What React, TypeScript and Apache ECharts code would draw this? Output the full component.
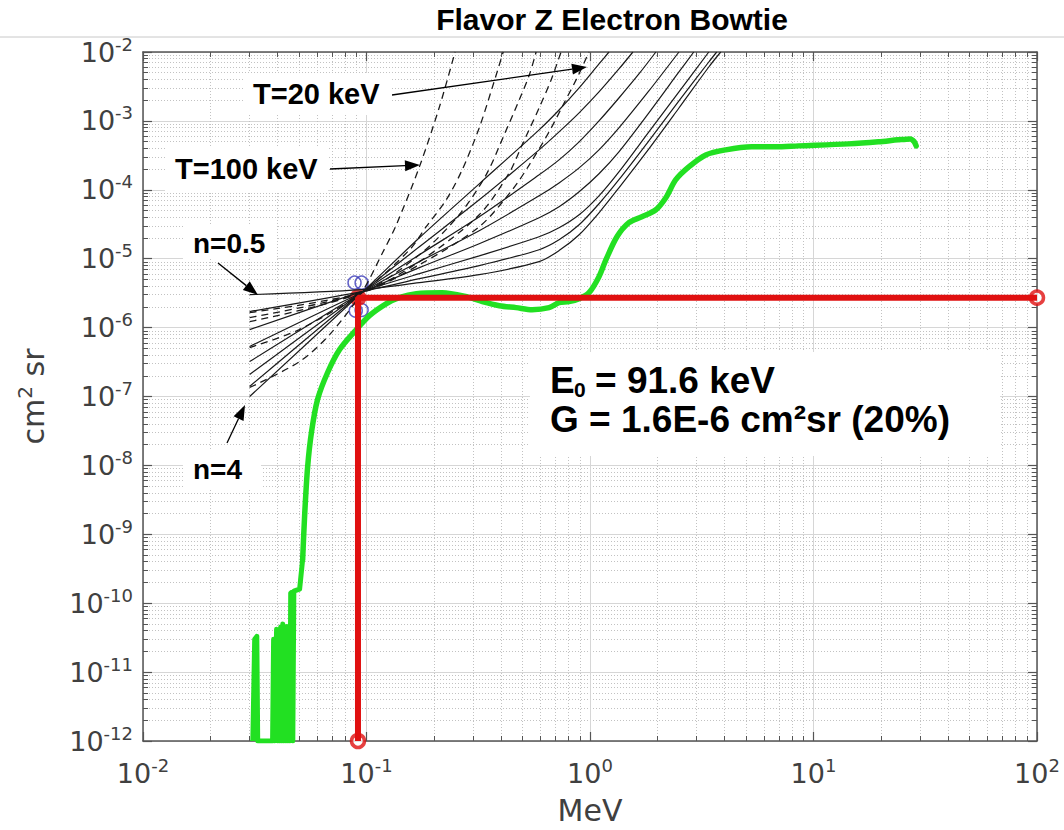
import React, { useEffect, useRef } from "react";
import * as echarts from "echarts";

// ---------- axis ticks ----------
const xMajorTicks = [0.01, 0.1, 1, 10, 100];
const yMajorTicks = [1e-12, 1e-11, 1e-10, 1e-9, 1e-8, 1e-7, 1e-6, 1e-5, 1e-4, 1e-3, 1e-2];
const minorMultipliers = [2, 3, 4, 5, 6, 7, 8, 9];
const xMinorTicks = xMajorTicks.slice(0, -1).flatMap((d) => minorMultipliers.map((m) => d * m));
const yMinorTicks = yMajorTicks.slice(0, -1).flatMap((d) => minorMultipliers.map((m) => d * m));

// ---------- power-law (n) curves: [MeV, cm2 sr] ----------
const curveN05 = [[0.030, 3.01e-6], [0.0951, 3.56e-6], [0.1724, 4.49e-6], [0.3194, 5.86e-6], [0.592, 9.06e-6], [0.727, 1.31e-5], [0.894, 2.23e-5], [1.097, 4.64e-5], [1.347, 1.07e-4], [1.834, 3.93e-4], [2.50, 1.54e-3], [3.40, 6.06e-3], [3.845, 1e-2]];
const curveN10 = [[0.030, 1.71e-6], [0.0951, 3.33e-6], [0.1724, 5.13e-6], [0.3194, 7.92e-6], [0.592, 1.35e-5], [0.727, 1.88e-5], [0.894, 3.11e-5], [1.097, 6.27e-5], [1.347, 1.40e-4], [1.834, 5.13e-4], [2.50, 1.95e-3], [3.40, 7.16e-3], [3.69, 1e-2]];
const curveN15 = [[0.030, 9.35e-7], [0.0951, 3.33e-6], [0.1724, 6.06e-6], [0.3194, 1.10e-5], [0.592, 2.08e-5], [0.727, 2.81e-5], [0.894, 4.34e-5], [1.097, 8.18e-5], [1.347, 1.82e-4], [1.834, 6.93e-4], [2.50, 2.63e-3], [3.40, 1e-2]];
const curveN20 = [[0.030, 5.31e-7], [0.0951, 3.21e-6], [0.1724, 7.41e-6], [0.3194, 1.65e-5], [0.592, 3.93e-5], [0.727, 5.67e-5], [0.894, 9.35e-5], [1.097, 1.71e-4], [1.347, 3.56e-4], [1.834, 1.31e-3], [2.50, 5.13e-3], [2.912, 1e-2]];
const curveN25 = [[0.030, 3.21e-7], [0.0951, 3.21e-6], [0.1724, 9.06e-6], [0.3194, 2.55e-5], [0.592, 8.18e-5], [0.727, 1.26e-4], [0.894, 2.08e-4], [1.097, 3.80e-4], [1.347, 7.92e-4], [1.834, 2.72e-3], [2.50, 1e-2]];
const curveN30 = [[0.030, 2.08e-7], [0.0951, 3.21e-6], [0.1724, 1.14e-5], [0.3194, 4.06e-5], [0.592, 1.65e-4], [0.727, 2.72e-4], [0.894, 4.97e-4], [1.097, 1.0e-3], [1.347, 2.15e-3], [1.655, 4.80e-3], [1.971, 1e-2]];
const curveN35 = [[0.030, 1.40e-7], [0.0951, 3.21e-6], [0.1724, 1.49e-5], [0.3194, 7.16e-5], [0.592, 3.80e-4], [0.727, 6.93e-4], [0.894, 1.31e-3], [1.097, 2.63e-3], [1.347, 5.67e-3], [1.556, 1e-2]];
const curveN40 = [[0.030, 1.0e-7], [0.0951, 3.21e-6], [0.1724, 2.01e-5], [0.3194, 1.22e-4], [0.592, 7.41e-4], [0.727, 1.44e-3], [0.894, 3.01e-3], [1.097, 6.70e-3], [1.216, 1e-2]];

// ---------- exponential (T) curves ----------
const curveT100 = [[0.030, 1.35e-7], [0.0502, 3.21e-7], [0.0684, 7.92e-7], [0.0951, 3.21e-6], [0.118, 1.22e-5], [0.136, 3.11e-5], [0.1724, 2.15e-4], [0.212, 1.60e-3], [0.249, 1e-2]];
const curveT2 = [[0.030, 5.13e-7], [0.050, 9.35e-7], [0.0951, 3.21e-6], [0.156, 1.35e-5], [0.185, 2.91e-5], [0.2275, 7.16e-5], [0.268, 1.95e-4], [0.3194, 7.92e-4], [0.365, 3.01e-3], [0.409, 1e-2]];
const curveT3 = [[0.030, 1.22e-6], [0.0951, 3.21e-6], [0.1724, 1.14e-5], [0.260, 4.34e-5], [0.343, 1.65e-4], [0.413, 6.27e-4], [0.482, 2.01e-3], [0.535, 4.64e-3], [0.574, 1e-2]];
const curveT4 = [[0.030, 1.40e-6], [0.0951, 3.21e-6], [0.1724, 9.06e-6], [0.3194, 4.34e-5], [0.435, 1.76e-4], [0.497, 4.49e-4], [0.592, 1.54e-3], [0.670, 3.93e-3], [0.742, 1e-2]];
const curveT20 = [[0.030, 1.65e-6], [0.0951, 3.21e-6], [0.1724, 8.18e-6], [0.3194, 2.91e-5], [0.449, 1.0e-4], [0.535, 2.30e-4], [0.656, 6.93e-4], [0.766, 1.82e-3], [0.875, 4.20e-3], [0.990, 1e-2]];

// ---------- measured geometric factor (green) ----------
const greenNoise = [
  [0.0310, 1e-12], [0.0316, 3.0e-11], [0.0323, 3.3e-11], [0.0326, 1e-12], [0.0380, 1e-12], [0.0384, 3.0e-11],
  [0.0388, 1e-12], [0.0396, 4.2e-11], [0.0401, 1e-12], [0.0405, 4.0e-11], [0.0409, 1e-12], [0.0413, 4.5e-11],
  [0.0418, 1e-12], [0.0422, 5.0e-11], [0.0426, 1e-12], [0.0431, 4.0e-11], [0.0436, 1e-12], [0.0440, 4.6e-11],
  [0.0445, 1e-12], [0.0449, 4.2e-11], [0.0454, 1e-12], [0.0458, 1.4e-10], [0.0463, 1.44e-10], [0.0468, 1e-12],
  [0.0473, 1.5e-10], [0.0487, 1.55e-10], [0.0502, 1.6e-10], [0.0518, 4.34e-10],
];
const greenMain = [
  [0.0518, 4.34e-10], [0.0529, 1.95e-9], [0.0545, 9.35e-9],
  [0.0568, 3.11e-8], [0.0604, 9.06e-8], [0.0670, 2.23e-7], [0.0758, 4.80e-7], [0.0884, 8.75e-7], [0.1031, 1.49e-6],
  [0.1228, 2.23e-6], [0.140, 2.72e-6], [0.167, 3.11e-6], [0.218, 3.21e-6], [0.280, 2.81e-6], [0.330, 2.38e-6],
  [0.393, 2.08e-6], [0.467, 1.95e-6], [0.551, 1.82e-6], [0.656, 1.95e-6], [0.727, 2.30e-6], [0.806, 2.38e-6],
  [0.894, 2.63e-6], [0.990, 3.21e-6], [1.097, 5.48e-6], [1.179, 9.68e-6], [1.320, 2.08e-5], [1.493, 3.33e-5],
  [1.706, 4.06e-5], [1.971, 5.13e-5], [2.184, 7.66e-5], [2.42, 1.40e-4], [2.767, 2.15e-4], [3.296, 3.21e-4],
  [4.05, 3.80e-4], [5.29, 4.20e-4], [6.77, 4.20e-4], [8.57, 4.34e-4], [14.3, 4.64e-4], [19.5, 4.97e-4],
  [23.9, 5.31e-4], [27.1, 5.48e-4], [28.2, 5.0e-4], [28.8, 4.34e-4],
];

// ---------- bowtie result ----------
const bowtiePath = [[0.0916, 1e-12], [0.0916, 2.72e-6], [100, 2.72e-6]];
const bowtieEnds = [[0.0916, 1e-12], [100, 2.72e-6]];
const bowtieCorner = [[0.0916, 2.72e-6]];
const crossingMarks = [[0.0884, 4.49e-6], [0.0951, 4.49e-6], [0.0895, 1.76e-6], [0.0951, 1.80e-6]];

const solidCurves = [
  { name: "n=0.5", data: curveN05 }, { name: "n=1", data: curveN10 }, { name: "n=1.5", data: curveN15 },
  { name: "n=2", data: curveN20 }, { name: "n=2.5", data: curveN25 }, { name: "n=3", data: curveN30 },
  { name: "n=3.5", data: curveN35 }, { name: "n=4", data: curveN40 },
];
const dashedCurves = [
  { name: "T=100 keV", data: curveT100 }, { name: "T curve 2", data: curveT2 }, { name: "T curve 3", data: curveT3 },
  { name: "T curve 4", data: curveT4 }, { name: "T=20 keV", data: curveT20 },
];

const AX_FONT = "DejaVu Sans";
const LBL_FONT = '"Liberation Sans", Arial, sans-serif';
const AX_GRAY = "#555555";
const TXT_GRAY = "#404040";
const GREEN = "#22e022";

const labelRich = {
  b: { fontFamily: AX_FONT, fontSize: 27, color: TXT_GRAY },
  s: { fontFamily: AX_FONT, fontSize: 18, color: TXT_GRAY, padding: [0, 0, 16, 0] },
};
const powFmt = (v: number) => `{b|10}{s|${Math.round(Math.log10(v))}}`;

function baseAxis(extra: any) {
  return { type: "log", logBase: 10, gridIndex: 0, ...extra };
}

function arrow(x1: number, y1: number, x2: number, y2: number) {
  const dx = x2 - x1, dy = y2 - y1;
  const len = Math.hypot(dx, dy);
  const ux = dx / len, uy = dy / len;
  const px = -uy, py = ux;
  const bx = x2 - 15 * ux, by = y2 - 15 * uy;
  return [
    { type: "line", z: 60, shape: { x1, y1, x2: bx, y2: by }, style: { stroke: "#000", lineWidth: 1.3 } },
    {
      type: "polygon", z: 60,
      shape: { points: [[x2, y2], [bx + 5.5 * px, by + 5.5 * py], [bx - 5.5 * px, by - 5.5 * py]] },
      style: { fill: "#000" },
    },
  ];
}

function whiteBox(x: number, y: number, w: number, h: number) {
  return { type: "rect", z: 55, shape: { x, y, width: w, height: h }, style: { fill: "#ffffff" } };
}
function boldText(text: string, x: number, y: number, size: number) {
  return {
    type: "text", z: 61, x, y,
    style: { text, fontFamily: LBL_FONT, fontWeight: "bold", fontSize: size, fill: "#000", align: "left", verticalAlign: "middle" },
  };
}

const option: any = {
  animation: false,
  backgroundColor: "#ffffff",
  title: {
    text: "Flavor Z Electron Bowtie",
    left: 612, top: 4, textAlign: "center", padding: 0,
    textStyle: { fontFamily: LBL_FONT, fontWeight: "bold", fontSize: 30, color: "#000" },
  },
  grid: { left: 143, top: 52, width: 894, height: 690, containLabel: false },
  xAxis: [
    baseAxis({
      min: 0.01, max: 100, position: "bottom",
      axisLine: { show: true, lineStyle: { color: AX_GRAY, width: 1.5 } },
      axisTick: { show: true, inside: true, length: 9, customValues: xMajorTicks, lineStyle: { color: AX_GRAY, width: 1.2 } },
      axisLabel: { show: true, customValues: xMajorTicks, formatter: powFmt, rich: labelRich, margin: 15, showMinLabel: true, showMaxLabel: true },
      splitLine: { show: true, lineStyle: { color: "#d6d6d6", width: 1 } },
      name: "MeV", nameLocation: "middle", nameGap: 54,
      nameTextStyle: { fontFamily: AX_FONT, fontSize: 30, color: TXT_GRAY },
    }),
    baseAxis({
      min: 0.01, max: 100, position: "bottom",
      axisLine: { show: false },
      axisTick: { show: true, inside: true, length: 5, customValues: xMinorTicks, lineStyle: { color: AX_GRAY, width: 1 } },
      axisLabel: { show: false },
      splitLine: { show: true, lineStyle: { color: "#c2c2c2", width: 1, type: [1, 2] } },
    }),
    baseAxis({
      min: 0.01, max: 100, position: "top",
      axisLine: { show: true, lineStyle: { color: AX_GRAY, width: 1.5 } },
      axisTick: { show: true, inside: true, length: 9, customValues: xMajorTicks, lineStyle: { color: AX_GRAY, width: 1.2 } },
      axisLabel: { show: false }, splitLine: { show: false },
    }),
    baseAxis({
      min: 0.01, max: 100, position: "top",
      axisLine: { show: false },
      axisTick: { show: true, inside: true, length: 5, customValues: xMinorTicks, lineStyle: { color: AX_GRAY, width: 1 } },
      axisLabel: { show: false }, splitLine: { show: false },
    }),
  ],
  yAxis: [
    baseAxis({
      min: 1e-12, max: 1e-2, position: "left",
      axisLine: { show: true, lineStyle: { color: AX_GRAY, width: 1.5 } },
      axisTick: { show: true, inside: true, length: 9, customValues: yMajorTicks, lineStyle: { color: AX_GRAY, width: 1.2 } },
      axisLabel: { show: true, customValues: yMajorTicks, formatter: powFmt, rich: labelRich, margin: 10, showMinLabel: true, showMaxLabel: true },
      splitLine: { show: true, lineStyle: { color: "#d6d6d6", width: 1 } },
      name: "{b|cm}{s|2}{b| sr}", nameLocation: "middle", nameGap: 92,
      nameTextStyle: {
        rich: {
          b: { fontFamily: AX_FONT, fontSize: 30, color: TXT_GRAY },
          s: { fontFamily: AX_FONT, fontSize: 20, color: TXT_GRAY, padding: [0, 0, 16, 0] },
        },
      },
    }),
    baseAxis({
      min: 1e-12, max: 1e-2, position: "left",
      axisLine: { show: false },
      axisTick: { show: true, inside: true, length: 5, customValues: yMinorTicks, lineStyle: { color: AX_GRAY, width: 1 } },
      axisLabel: { show: false },
      splitLine: { show: true, lineStyle: { color: "#c2c2c2", width: 1, type: [1, 2] } },
    }),
    baseAxis({
      min: 1e-12, max: 1e-2, position: "right",
      axisLine: { show: true, lineStyle: { color: AX_GRAY, width: 1.5 } },
      axisTick: { show: true, inside: true, length: 9, customValues: yMajorTicks, lineStyle: { color: AX_GRAY, width: 1.2 } },
      axisLabel: { show: false }, splitLine: { show: false },
    }),
    baseAxis({
      min: 1e-12, max: 1e-2, position: "right",
      axisLine: { show: false },
      axisTick: { show: true, inside: true, length: 5, customValues: yMinorTicks, lineStyle: { color: AX_GRAY, width: 1 } },
      axisLabel: { show: false }, splitLine: { show: false },
    }),
  ],
  series: [
    ...solidCurves.map((c) => ({
      type: "line", name: c.name, data: c.data, xAxisIndex: 0, yAxisIndex: 0,
      showSymbol: false, symbol: "none", smooth: 0.3,
      lineStyle: { color: "#1a1a1a", width: 1.2 },
    })),
    ...dashedCurves.map((c) => ({
      type: "line", name: c.name, data: c.data, xAxisIndex: 0, yAxisIndex: 0,
      showSymbol: false, symbol: "none", smooth: 0.3,
      lineStyle: { color: "#1a1a1a", width: 1.3, type: [7, 5] },
    })),
    {
      type: "line", name: "Geometric factor (noise)", data: greenNoise, xAxisIndex: 0, yAxisIndex: 0,
      showSymbol: false, symbol: "none", lineStyle: { color: GREEN, width: 5, join: "round" },
    },
    {
      type: "line", name: "Geometric factor", data: greenMain, xAxisIndex: 0, yAxisIndex: 0,
      showSymbol: false, symbol: "none", smooth: 0.3,
      lineStyle: { color: GREEN, width: 5.5, join: "round", cap: "round" },
    },
    {
      type: "scatter", name: "crossings", data: crossingMarks, xAxisIndex: 0, yAxisIndex: 0,
      symbol: "circle", symbolSize: 13,
      itemStyle: { color: "rgba(0,0,0,0)", borderColor: "#3a3ab8", borderWidth: 1.5 },
    },
    {
      type: "line", name: "E0 / G", data: bowtiePath, xAxisIndex: 0, yAxisIndex: 0,
      showSymbol: false, symbol: "none", clip: false, lineStyle: { color: "#e01010", width: 6 },
    },
    {
      type: "scatter", name: "ends", data: bowtieEnds, xAxisIndex: 0, yAxisIndex: 0, clip: false,
      symbol: "circle", symbolSize: 13,
      itemStyle: { color: "#ffffff", borderColor: "#e01010", borderWidth: 3.5 },
    },
    {
      type: "scatter", name: "corner", data: bowtieCorner, xAxisIndex: 0, yAxisIndex: 0, clip: false,
      symbol: "circle", symbolSize: 17, itemStyle: { color: "#e01010" },
    },
  ],
  graphic: [
    { type: "line", z: 60, shape: { x1: 0, y1: 37, x2: 1064, y2: 37 }, style: { stroke: "#c8c8c8", lineWidth: 1 } },
    whiteBox(245, 73, 146, 42),
    whiteBox(165, 147, 163, 44),
    whiteBox(183, 226, 94, 33),
    whiteBox(183, 451, 78, 38),
    whiteBox(530, 352, 470, 104),
    boldText("T=20 keV", 253, 94, 29),
    boldText("T=100 keV", 175, 169, 29),
    boldText("n=0.5", 193, 243, 28),
    boldText("n=4", 193, 469, 28),
    ...arrow(392, 95, 587, 67),
    ...arrow(330, 169, 420, 165),
    ...arrow(218, 263, 258, 295),
    ...arrow(227, 443, 245, 405),
    boldText("E", 550, 380, 37),
    boldText("0", 574, 389, 21),
    boldText("= 91.6 keV", 595, 380, 37),
    boldText("G = 1.6E-6 cm\u00b2sr (20%)", 550, 419, 37),
  ],
};

export default function App() {
  const ref = useRef<HTMLDivElement>(null);
  useEffect(() => {
    if (!ref.current) return;
    const chart = echarts.init(ref.current, null, { renderer: "svg" });
    chart.setOption(option);
    return () => chart.dispose();
  }, []);
  return (
    <div
      ref={ref}
      style={{ position: "fixed", left: 0, top: 0, width: 1064, height: 830, background: "#ffffff" }}
    />
  );
}
